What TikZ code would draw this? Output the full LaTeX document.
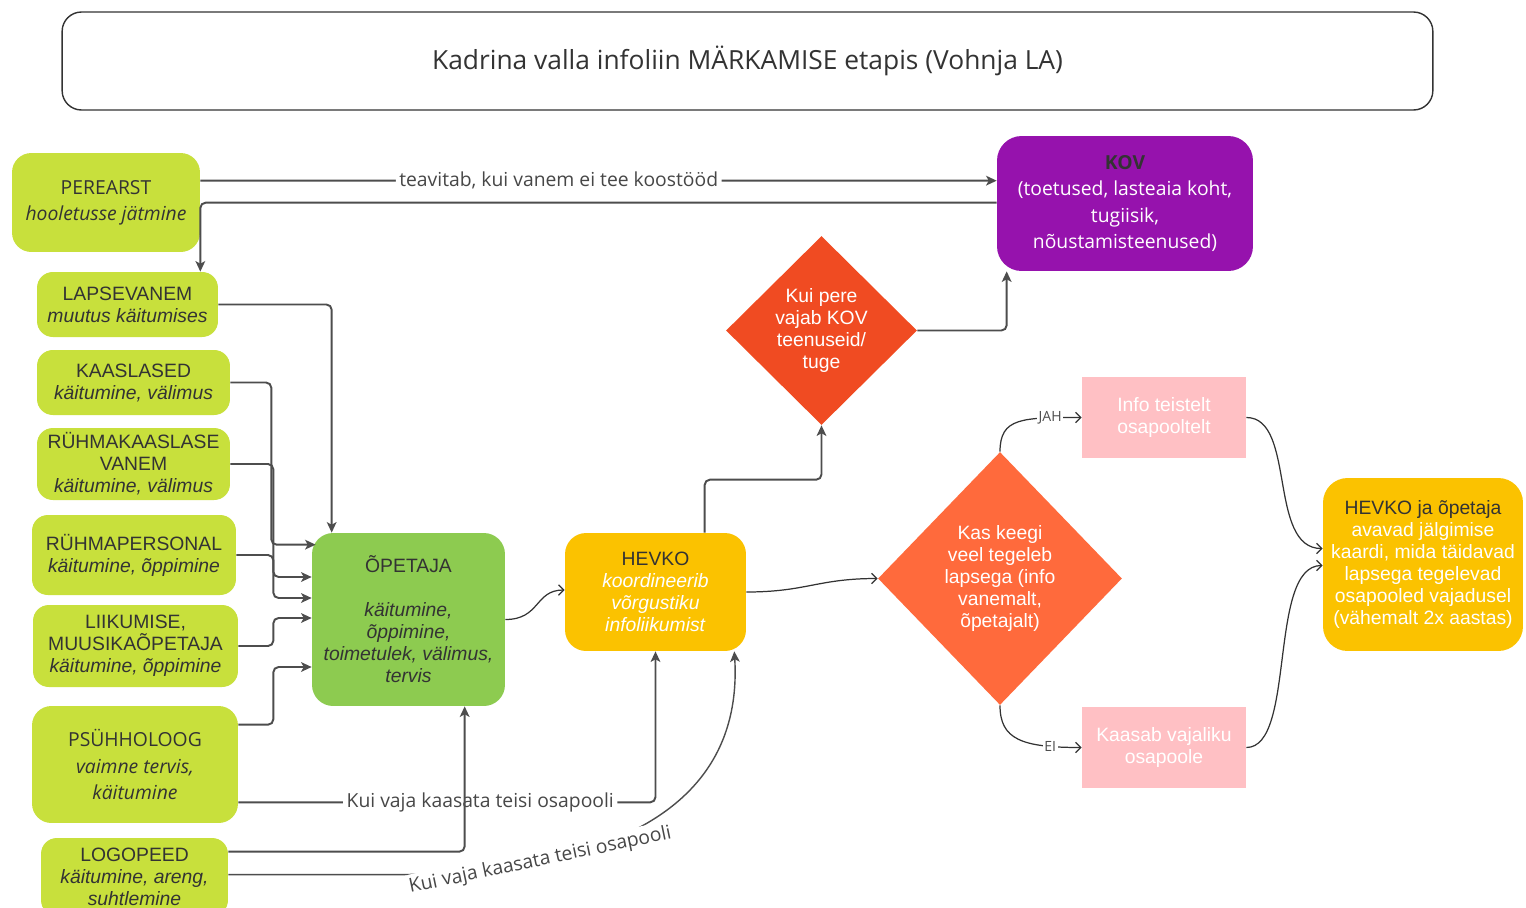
\documentclass[tikz,border=0pt]{standalone}
\usepackage{fontspec}
\setmainfont{Liberation Sans}
\newfontfamily\opensans{Open Sans}
\usepackage{xcolor}
\usepackage{tikz}
\usetikzlibrary{calc,shapes.geometric,arrows.meta}
\definecolor{ink}{HTML}{333333}
\definecolor{wire}{HTML}{4D4D4D}
\definecolor{limeg}{HTML}{C8E03C}
\definecolor{leaf}{HTML}{8DCB50}
\definecolor{amber}{HTML}{FBC200}
\definecolor{redo}{HTML}{F04B22}
\definecolor{orng}{HTML}{FF6A3C}
\definecolor{plum}{HTML}{9612AD}
\definecolor{blush}{HTML}{FFC0C4}
\newcommand\arial{\fontsize{11pt}{12.5pt}\selectfont}
\newcommand\osans{\opensans\fontsize{11pt}{15pt}\selectfont}
\tikzset{
  card/.style={rectangle, rounded corners=9pt, inner sep=0pt, align=center, text=ink, font=\arial},
  lime/.style={card, fill=limeg},
  decide/.style={diamond, aspect=1, inner sep=0pt, align=center, text=white, font=\arial},
  conn/.style={draw=wire, line width=1.1pt, rounded corners=3pt, -{Stealth[length=6pt,width=5.5pt,inset=1.5pt]}},
  flow/.style={draw=ink, line width=0.7pt, -{Straight Barb[length=3pt,width=6pt]}},
  lab/.style={fill=white, text=ink!90, font=\osans, inner sep=2pt},
  yn/.style={fill=white, text=wire, font=\opensans\fontsize{8pt}{9pt}\selectfont, inner sep=1pt},
}
\begin{document}
\begin{tikzpicture}[x=0.02cm, y=-0.02cm]
  \fill[white] (0,0) rectangle (1526,907);
  \useasboundingbox (0,0) rectangle (1526,907);
  \node[card, draw=ink, line width=0.8pt, rounded corners=11pt, minimum width=27.42cm, minimum height=1.96cm,
        font=\opensans\fontsize{15pt}{18pt}\selectfont] (title) at (747.5,61)
        {Kadrina valla infoliin MÄRKAMISE etapis (Vohnja LA)};

  \node[lime, font=\osans, rounded corners=11pt, minimum width=3.76cm, minimum height=1.98cm] (perearst) at (106,202.5)
        {PEREARST\\\textit{hooletusse jätmine}};
  \node[lime, minimum width=3.62cm, minimum height=1.30cm] (lapsevanem) at (127.5,304.5)
        {LAPSEVANEM\\\textit{muutus käitumises}};
  \node[lime, minimum width=3.86cm, minimum height=1.30cm] (kaaslased) at (133.5,382.5)
        {KAASLASED\\\textit{käitumine, välimus}};
  \node[lime, minimum width=3.86cm, minimum height=1.44cm] (ryhmvanem) at (133.5,464)
        {RÜHMAKAASLASE\\VANEM\\\textit{käitumine, välimus}};
  \node[lime, minimum width=4.08cm, minimum height=1.60cm] (personal) at (134,555)
        {RÜHMAPERSONAL\\\textit{käitumine, õppimine}};
  \node[lime, minimum width=4.10cm, minimum height=1.64cm] (liikumise) at (135.5,646)
        {LIIKUMISE,\\MUUSIKAÕPETAJA\\\textit{käitumine, õppimine}};
  \node[lime, font=\osans, rounded corners=11pt, minimum width=4.12cm, minimum height=2.34cm] (psyhholoog) at (135,764.5)
        {PSÜHHOLOOG\\\textit{vaimne tervis,}\\\textit{käitumine}};
  \node[lime, minimum width=3.74cm, minimum height=1.56cm] (logopeed) at (134.5,877)
        {LOGOPEED\\\textit{käitumine, areng,}\\\textit{suhtlemine}};

  \node[card, fill=leaf, rounded corners=12pt, minimum width=3.86cm, minimum height=3.46cm] (opetaja) at (408.5,619.5)
        {ÕPETAJA\\[12.5pt]\textit{käitumine,}\\\textit{õppimine,}\\\textit{toimetulek, välimus,}\\\textit{tervis}};
  \node[card, fill=amber, rounded corners=12pt, minimum width=3.62cm, minimum height=2.36cm] (hevko) at (655.5,592)
        {HEVKO\\\textcolor{white}{\textit{koordineerib}}\\\textcolor{white}{\textit{võrgustiku}}\\\textcolor{white}{\textit{infoliikumist}}};
  \node[card, fill=plum, text=white, font=\osans, rounded corners=14pt, minimum width=5.12cm, minimum height=2.70cm] (kov) at (1125,203.5)
        {\textcolor{ink}{\textbf{KOV}}\\(toetused, lasteaia koht,\\tugiisik,\\nõustamisteenused)};
  \node[decide, fill=redo, minimum width=3.82cm, minimum height=3.78cm] (kovq) at (821.5,330.5)
        {Kui pere\\vajab KOV\\teenuseid/\\tuge};
  \node[decide, fill=orng, minimum width=4.88cm, minimum height=5.06cm] (keegi) at (1000,578.5)
        {Kas keegi\\veel tegeleb\\lapsega (info\\vanemalt,\\õpetajalt)};
  \node[card, fill=blush, text=white, sharp corners, minimum width=3.28cm, minimum height=1.62cm] (info) at (1164,417.5)
        {Info teistelt\\osapooltelt};
  \node[card, fill=blush, text=white, sharp corners, minimum width=3.28cm, minimum height=1.62cm] (kaasab) at (1164,747.5)
        {Kaasab vajaliku\\osapoole};
  \node[card, fill=amber, text=white, rounded corners=14pt, minimum width=4.00cm, minimum height=3.46cm] (jalgimine) at (1423,564.5)
        {\textcolor{ink}{HEVKO ja õpetaja}\\avavad jälgimise\\kaardi, mida täidavad\\lapsega tegelevad\\osapooled vajadusel\\(vähemalt 2x aastas)};

  \draw[conn] ($(perearst.north east)+(0,28)$) -- node[lab, pos=0.45]{teavitab, kui vanem ei tee koostööd} ($(kov.north west)+(0,45)$);
  \draw[conn] ($(kov.north west)+(0,67)$) -| ($(lapsevanem.north east)+(-18,0)$);
  \draw[conn] (lapsevanem.east) -| ($(opetaja.north west)+(20,0)$);
  \draw[conn] (kaaslased.east) -- ++(41,0) |- ($(opetaja.north west)+(4,12)$);
  \draw[conn] (ryhmvanem.east) -- ++(43,0) |- ($(opetaja.west)+(0,-21.5)$);
  \draw[conn] (personal.east) -- ++(37,0) |- ($(opetaja.west)+(0,-42.5)$);
  \draw[conn] (liikumise.east) -- ++(35,0) |- ($(opetaja.west)+(0,-1.5)$);
  \draw[conn] ($(psyhholoog.north east)+(0,19)$) -- ++(35,0) |- ($(opetaja.west)+(0,47.5)$);
  \draw[conn] ($(psyhholoog.south east)+(0,-21)$) -| node[lab, pos=0.29]{Kui vaja kaasata teisi osapooli} (hevko.south);
  \draw[conn] ($(logopeed.north east)+(0,14)$) -| ($(opetaja.south west)+(153,0)$);
  \draw[conn, line width=0.8pt] ($(logopeed.north east)+(0,37)$) -- ++(167,0)
        .. controls +(180,-2) and +(10,175) .. ($(hevko.south east)+(-12,0)$)
        node[lab, sloped, pos=0.28]{Kui vaja kaasata teisi osapooli};

  \draw[flow] (opetaja.east) .. controls +(35,0) and +(-30,0) .. ($(hevko.west)+(0,-2)$);
  \draw[flow] (hevko.east) .. controls +(60,0) and +(-60,0) .. (keegi.west);
  \draw[conn] ($(hevko.north west)+(140,0)$) -- ++(0,-53) -| (kovq.south);
  \draw[conn] (kovq.east) -| ($(kov.south west)+(10,0)$);
  \draw[flow] (keegi.north) .. controls +(0,-34) and +(-60,0) .. (info.west) node[yn, pos=0.8]{JAH};
  \draw[flow] (keegi.south) .. controls +(0,34) and +(-60,0) .. (kaasab.west) node[yn, pos=0.8]{EI};
  \draw[flow] (info.east) .. controls +(50,0) and +(-55,0) .. ($(jalgimine.west)+(0,-16)$);
  \draw[flow] (kaasab.east) .. controls +(50,0) and +(-55,0) .. ($(jalgimine.west)+(0,1)$);
\end{tikzpicture}
\end{document}
